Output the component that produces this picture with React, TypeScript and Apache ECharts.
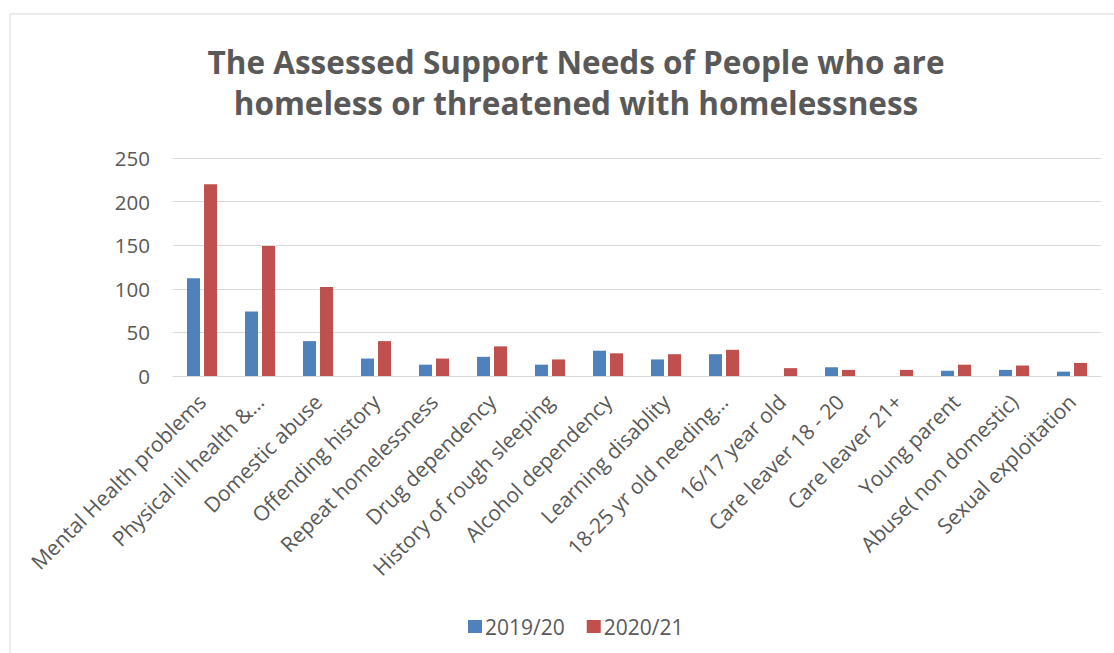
import React, { useEffect, useRef } from "react";
import * as echarts from "echarts";

const categories = [
  "Mental Health problems",
  "Physical ill health &…",
  "Domestic abuse",
  "Offending history",
  "Repeat homelessness",
  "Drug dependency",
  "History of rough sleeping",
  "Alcohol dependency",
  "Learning disablity",
  "18-25 yr old needing…",
  "16/17 year old",
  "Care leaver 18 - 20",
  "Care leaver 21+",
  "Young parent",
  "Abuse( non domestic)",
  "Sexual exploitation",
];
const values2019 = [112, 74, 40, 20, 13, 22, 13, 29, 19, 25, 0, 10, 0, 6, 7, 5];
const values2020 = [220, 149, 102, 40, 20, 34, 19, 26, 25, 30, 9, 7, 7, 13, 12, 15];
const yTicks = [0, 50, 100, 150, 200, 250];
const titleLines = [
  "The Assessed Support Needs of People who are",
  "homeless or threatened with homelessness",
];

const TEXT = "#595959";
const FONT = "'Open Sans', 'Noto Sans', sans-serif";

export default function App() {
  const ref = useRef<HTMLDivElement>(null);
  useEffect(() => {
    if (!ref.current) return;
    const chart = echarts.init(ref.current, undefined, { renderer: "svg" });
    chart.setOption({
      animation: false,
      backgroundColor: "#ffffff",
      textStyle: { fontFamily: FONT },
      title: {
        text: titleLines.join("\n"),
        left: 571,
        top: 36,
        textAlign: "center",
        textStyle: {
          fontFamily: FONT,
          fontSize: 31.5,
          fontWeight: "bold",
          color: TEXT,
          lineHeight: 41,
        },
      },
      graphic: [
        {
          type: "rect",
          shape: { x: 10, y: 14, width: 1130, height: 660 },
          style: { fill: "none", stroke: "#D9D9D9", lineWidth: 1 },
          silent: true,
        },
      ],
      legend: {
        left: 463,
        top: 611,
        itemWidth: 14,
        itemHeight: 13,
        itemGap: 22,
        icon: "rect",
        textStyle: { fontFamily: FONT, fontSize: 21, color: TEXT, padding: [0, 0, 0, -2] },
        data: ["2019/20", "2020/21"],
      },
      grid: { left: 173, right: 13, top: 158, bottom: 277, containLabel: false },
      xAxis: {
        type: "category",
        data: categories,
        axisLine: { show: true, lineStyle: { color: "#D9D9D9", width: 1 } },
        axisTick: { show: false },
        axisLabel: {
          interval: 0,
          rotate: 45,
          margin: 22,
          fontFamily: FONT,
          fontSize: 21,
          color: TEXT,
        },
      },
      yAxis: {
        type: "value",
        min: yTicks[0],
        max: yTicks[yTicks.length - 1],
        interval: 50,
        axisLine: { show: false },
        axisTick: { show: false },
        splitLine: { lineStyle: { color: "#D9D9D9", width: 1 } },
        axisLabel: { margin: 23, fontFamily: FONT, fontSize: 20.5, color: TEXT },
      },
      series: [
        {
          name: "2019/20",
          type: "bar",
          data: values2019,
          barWidth: 13,
          barGap: "31%",
          itemStyle: { color: "#4F81BD" },
        },
        {
          name: "2020/21",
          type: "bar",
          data: values2020,
          barWidth: 13,
          barGap: "31%",
          itemStyle: { color: "#C0504D" },
        },
      ],
    });
    return () => chart.dispose();
  }, []);
  return (
    <div
      ref={ref}
      style={{ position: "fixed", left: 0, top: 0, width: 1114, height: 653, background: "#fff" }}
    />
  );
}
